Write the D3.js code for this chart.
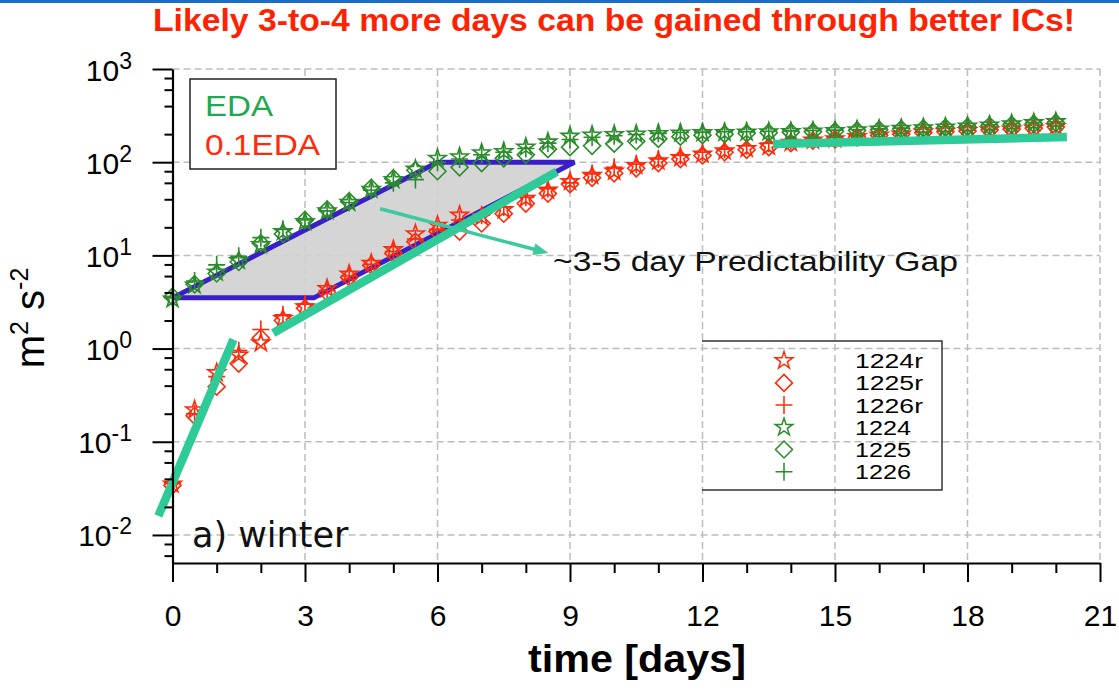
<!DOCTYPE html>
<html>
<head>
<meta charset="utf-8">
<script src="https://cdn.jsdelivr.net/npm/d3@7"></script>
<style>
  body { margin: 0; background: #fff; }
  svg { display: block; }
  text { font-family: "Liberation Sans", Arial, Helvetica, sans-serif; }
</style>
</head>
<body>
<svg id="chart" width="1119" height="690"></svg>
<script>
// waktu (hari) untuk tiap titik
const times = [0, 0.5, 1, 1.5, 2, 2.5, 3, 3.5, 4, 4.5, 5, 5.5, 6, 6.5, 7, 7.5, 8, 8.5, 9, 9.5,
  10, 10.5, 11, 11.5, 12, 12.5, 13, 13.5, 14, 14.5, 15, 15.5, 16, 16.5, 17, 17.5, 18, 18.5, 19, 19.5, 20];

// 0.1EDA (merah)
const r1224 = [0.035, 0.22, 0.55, 0.85, 1.15, 2.1, 2.8, 4.4, 6.3, 8.2,
  11.5, 17, 21, 27, 26, 31, 41, 50, 62, 72,
  80, 92, 103, 112, 122, 132, 140, 148, 163, 172,
  178, 188, 195, 200, 210, 214, 218, 222, 226, 232, 240];
const r1225 = [0.034, 0.19, 0.39, 0.69, 1.3, 2.0, 2.7, 4.0, 5.8, 7.8,
  10.5, 14, 18, 18, 22, 28, 36, 46, 58, 68,
  76, 86, 98, 108, 118, 128, 136, 145, 160, 170,
  176, 185, 193, 199, 207, 212, 216, 221, 226, 231, 238];
const r1226 = [0.036, 0.2, 0.5, 0.95, 1.6, 2.3, 3.0, 4.2, 6.0, 8.0,
  11, 15, 19, 24, 27, 33, 42, 52, 60, 75,
  88, 95, 108, 118, 128, 138, 150, 160, 170, 178,
  185, 192, 198, 204, 210, 215, 220, 225, 230, 236, 244];

// EDA (hijau)
const g1224 = [3.4, 4.8, 6.6, 8.8, 13, 18, 23, 30, 37, 51,
  65, 84, 110, 114, 126, 130, 145, 165, 190, 195,
  198, 200, 203, 205, 207, 208, 210, 212, 213, 215,
  218, 222, 226, 230, 234, 238, 243, 250, 258, 265, 272];
const g1225 = [3.6, 4.9, 6.4, 8.5, 13.5, 17, 24, 31, 38, 53,
  67, 82, 80, 88, 98, 110, 120, 138, 145, 150,
  158, 168, 178, 188, 195, 200, 204, 207, 210, 212,
  215, 219, 223, 227, 231, 235, 240, 246, 252, 258, 265];
const g1226 = [3.5, 5.3, 7.9, 9.8, 15.5, 19, 24, 30, 37, 50,
  60, 65, 100, 108, 120, 128, 140, 160, 175, 185,
  192, 198, 204, 208, 210, 212, 213, 215, 217, 219,
  221, 224, 228, 232, 236, 240, 245, 252, 259, 266, 272];

const seriesNames = ["1224r", "1225r", "1226r", "1224", "1225", "1226"];
const seriesValues = [r1224, r1225, r1226, g1224, g1225, g1226];
const seriesShape = ["star", "diamond", "plus", "star", "diamond", "plus"];

const xTicks = [0, 3, 6, 9, 12, 15, 18, 21];
const xMinor = [1, 2, 4, 5, 7, 8, 10, 11, 13, 14, 16, 17, 19, 20];
const yTicks = [0.01, 0.1, 1, 10, 100, 1000];
const yTickExp = ["-2", "-1", "0", "1", "2", "3"];
const yMinor = [0.006, 0.008, 0.02, 0.04, 0.06, 0.08, 0.2, 0.4, 0.6, 0.8,
  2, 4, 6, 8, 20, 40, 60, 80, 200, 400, 600, 800];

// anotasi (koordinat data)
const gapShape = [[0, 3.5], [6, 100], [9.1, 100], [3.2, 3.5]];
const fitLines = [
  [[-0.32, 0.016], [1.38, 1.25]],
  [[2.28, 1.47], [8.7, 79]],
  [[13.6, 157], [20.25, 186]]
];
const gapArrow = [[4.7, 31.6], [8.51, 10.6]];

const RED = "#ff2a0a", GREEN = "#2a8c2a", TEAL = "#2ecb98", BLUE = "#3a1ec8";

const svg = d3.select("#chart");

// garis biru di atas
svg.append("rect").attr("x", 0).attr("y", 0).attr("width", 1119).attr("height", 3).attr("fill", "#1c6dc8");

// judul
svg.append("text")
  .attr("x", 153).attr("y", 31)
  .attr("textLength", 922).attr("lengthAdjust", "spacingAndGlyphs")
  .style("font-family", '"Liberation Sans Narrow", "Arial Narrow", "Liberation Sans", sans-serif')
  .style("font-weight", "bold").style("font-size", "31px")
  .attr("fill", "#ff2200")
  .text("Likely 3-to-4 more days can be gained through better ICs!");

const x = d3.scaleLinear().domain([0, 21]).range([172.5, 1100]);
const y = d3.scaleLog().domain([0.005, 1000]).range([563, 69]);

// grid putus-putus
const grid = svg.append("g").attr("stroke", "#bdbdbd").attr("stroke-width", 1.5).attr("stroke-dasharray", "7,4");
grid.selectAll("line.v").data(xTicks.slice(1)).enter().append("line")
  .attr("x1", d => x(d)).attr("x2", d => x(d)).attr("y1", y(1000)).attr("y2", y(0.005));
grid.selectAll("line.h").data(yTicks).enter().append("line")
  .attr("x1", x(0)).attr("x2", x(21)).attr("y1", d => y(d)).attr("y2", d => y(d));

// jajaran genjang "predictability gap"
const line = d3.line().x(d => x(d[0])).y(d => y(d[1]));
svg.append("path")
  .attr("d", line(gapShape) + "Z")
  .attr("fill", "#d0d0d0").attr("fill-opacity", 0.9)
  .attr("stroke", BLUE).attr("stroke-width", 5).attr("stroke-linejoin", "miter");

// simbol
const starPath = d3.symbol(d3.symbolStar, 95)();
const shapePath = {
  star: starPath,
  diamond: "M0,-8.5L8.5,0L0,8.5L-8.5,0Z",
  plus: "M-8.5,0H8.5M0,-9V9"
};

// titik data
seriesValues.forEach((vals, i) => {
  const col = i < 3 ? RED : GREEN;
  svg.append("g").selectAll("path")
    .data(vals.map((v, j) => ({ t: times[j], v: v })))
    .enter().append("path")
    .attr("transform", d => `translate(${x(d.t)},${y(d.v)})`)
    .attr("d", shapePath[seriesShape[i]])
    .attr("fill", "none").attr("stroke", col).attr("stroke-width", 1.6);
});

// garis tebal hijau toska
fitLines.forEach(seg => {
  svg.append("path").attr("d", line(seg))
    .attr("stroke", TEAL).attr("stroke-width", 8.5).attr("fill", "none");
});

// panah
const a0 = [x(gapArrow[0][0]), y(gapArrow[0][1])];
const a1 = [x(gapArrow[1][0]), y(gapArrow[1][1])];
const ang = Math.atan2(a1[1] - a0[1], a1[0] - a0[0]);
const hl = 15, hw = 6;
svg.append("line")
  .attr("x1", a0[0]).attr("y1", a0[1])
  .attr("x2", a1[0] - hl * 0.8 * Math.cos(ang)).attr("y2", a1[1] - hl * 0.8 * Math.sin(ang))
  .attr("stroke", "#3cc9a0").attr("stroke-width", 3.5);
svg.append("path")
  .attr("d", `M${a1[0]},${a1[1]}` +
    `L${a1[0] - hl * Math.cos(ang) + hw * Math.sin(ang)},${a1[1] - hl * Math.sin(ang) - hw * Math.cos(ang)}` +
    `L${a1[0] - hl * Math.cos(ang) - hw * Math.sin(ang)},${a1[1] - hl * Math.sin(ang) + hw * Math.cos(ang)}Z`)
  .attr("fill", "#3cc9a0");

svg.append("text")
  .attr("x", 553).attr("y", 271)
  .attr("textLength", 405).attr("lengthAdjust", "spacingAndGlyphs")
  .style("font-size", "27px").attr("fill", "#111")
  .text("~3-5 day Predictability Gap");

// sumbu
const xAxis = svg.append("g").attr("transform", `translate(0,${y(0.005)})`)
  .call(d3.axisBottom(x).tickValues(xTicks).tickSize(19).tickSizeOuter(0).tickPadding(23));
xAxis.selectAll("text").style("font-size", "30px").attr("fill", "#000");
svg.append("g").attr("transform", `translate(0,${y(0.005)})`)
  .call(d3.axisBottom(x).tickValues(xMinor).tickSize(10).tickFormat(""))
  .call(g => g.select(".domain").remove());

svg.append("g").attr("transform", `translate(${x(0)},0)`)
  .call(d3.axisLeft(y).tickValues(yTicks).tickSize(20).tickSizeOuter(0).tickFormat(""));
svg.append("g").attr("transform", `translate(${x(0)},0)`)
  .call(d3.axisLeft(y).tickValues(yMinor).tickSize(8).tickFormat(""))
  .call(g => g.select(".domain").remove());
svg.selectAll(".domain").attr("stroke-width", 2.2);
svg.selectAll(".tick line").attr("stroke-width", 2);

// label sumbu y: 10 pangkat
const yl = svg.append("g").selectAll("text").data(yTicks).enter().append("text")
  .attr("x", 132).attr("y", d => y(d) + 11.5)
  .attr("text-anchor", "end").attr("fill", "#000").style("font-size", "30px");
yl.append("tspan").text("10");
yl.append("tspan").attr("dy", -12).style("font-size", "23px").text((d, i) => yTickExp[i]);

// judul sumbu
svg.append("text")
  .attr("x", 637).attr("y", 672).attr("text-anchor", "middle")
  .style("font-family", '"Liberation Sans Narrow", "Liberation Sans", sans-serif')
  .style("font-weight", "bold").style("font-size", "38px")
  .attr("textLength", 218).attr("lengthAdjust", "spacingAndGlyphs")
  .text("time [days]");

const ylab = svg.append("text")
  .attr("transform", "translate(44,318) rotate(-90)")
  .attr("text-anchor", "middle").style("font-size", "40px").attr("fill", "#000");
ylab.append("tspan").text("m");
ylab.append("tspan").attr("dy", -16).style("font-size", "25px").text("2");
ylab.append("tspan").attr("dy", 16).text(" s");
ylab.append("tspan").attr("dy", -16).style("font-size", "25px").text("-2");

// label panel
svg.append("text").attr("x", 192).attr("y", 547)
  .style("font-family", '"DejaVu Sans", sans-serif').style("font-size", "35px")
  .attr("fill", "#111").text("a) winter");

// legenda kiri atas
svg.append("rect").attr("x", 190).attr("y", 79).attr("width", 146).attr("height", 90)
  .attr("fill", "#fff").attr("stroke", "#222").attr("stroke-width", 1.5);
svg.append("text").attr("x", 205).attr("y", 116).style("font-size", "30px")
  .attr("textLength", 68).attr("lengthAdjust", "spacingAndGlyphs")
  .attr("fill", "#1fa84f").text("EDA");
svg.append("text").attr("x", 205).attr("y", 155).style("font-size", "30px")
  .attr("textLength", 115).attr("lengthAdjust", "spacingAndGlyphs")
  .attr("fill", RED).text("0.1EDA");

// legenda kanan bawah
const lg = svg.append("g");
lg.append("path").attr("d", "M702,341H942V490H702")
  .attr("fill", "none").attr("stroke", "#333").attr("stroke-width", 1.5);
const rows = lg.selectAll("g.row").data(seriesNames).enter().append("g")
  .attr("transform", (d, i) => `translate(784,${360.7 + i * 22.2})`);
rows.append("path").attr("d", (d, i) => shapePath[seriesShape[i]])
  .attr("fill", "none").attr("stroke", (d, i) => i < 3 ? RED : GREEN).attr("stroke-width", 1.5);
rows.append("text").attr("x", 71).attr("y", 7.5)
  .attr("textLength", (d, i) => i < 3 ? 68 : 56).attr("lengthAdjust", "spacingAndGlyphs")
  .style("font-size", "19.5px").attr("fill", "#000").text(d => d);
</script>
</body>
</html>
